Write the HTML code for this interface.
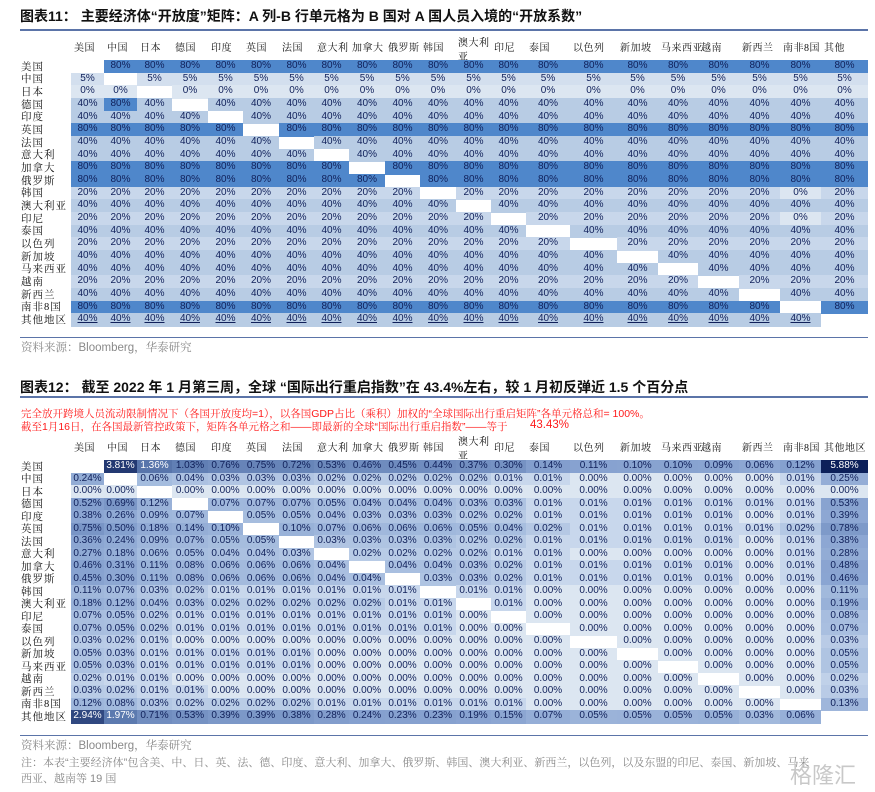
<!DOCTYPE html>
<html><head><meta charset="utf-8">
<style>
body{margin:0;width:875px;height:792px;background:#fff;position:relative;overflow:hidden;font-family:"Liberation Sans","Noto Sans CJK SC",sans-serif;}
.abs{position:absolute;}
.title{position:absolute;left:20px;font-size:14px;font-weight:bold;color:#111;font-family:"Liberation Sans","Noto Sans CJK SC",sans-serif;white-space:nowrap;line-height:18px;}
.rule{position:absolute;left:20px;width:848px;height:1.5px;background:#5b74a8;}
.cell{position:absolute;font-size:10px;color:#10205a;text-align:center;font-family:"Liberation Sans",sans-serif;}
.rl{position:absolute;left:21px;font-size:10.5px;color:#111;font-family:"Liberation Serif","Noto Serif CJK SC",serif;white-space:nowrap;letter-spacing:1px;}
.hl{position:absolute;font-size:10px;color:#111;font-family:"Liberation Serif","Noto Serif CJK SC",serif;white-space:nowrap;line-height:12px;letter-spacing:0.5px;}
.src{position:absolute;left:21px;font-size:11.5px;color:#8a8a8a;font-family:"Liberation Sans","Noto Serif CJK SC",sans-serif;white-space:nowrap;line-height:14px;}
.red{position:absolute;left:21px;font-size:10.5px;color:#ff1a1a;font-family:"Liberation Sans","Noto Serif CJK SC",sans-serif;white-space:nowrap;line-height:13px;}
</style></head>
<body>
<div class="title" style="top:7px">图表11：&nbsp;主要经济体“开放度”矩阵：A 列-B 行单元格为 B 国对 A 国人员入境的“开放系数”</div>
<div class="rule" style="top:29px"></div>
<div id="t1"></div>
<div class="rule" style="top:337px;height:1px"></div>
<div class="src" style="top:341px">资料来源：Bloomberg，华泰研究</div>

<div class="title" style="top:378px">图表12：&nbsp;截至 2022 年 1 月第三周，全球 “国际出行重启指数”在 43.4%左右，较 1 月初反弹近 1.5 个百分点</div>
<div class="rule" style="top:396px"></div>
<div class="red" style="top:408px">完全放开跨境人员流动限制情况下（各国开放度均=1），以各国GDP占比（乘积）加权的“全球国际出行重启矩阵”各单元格总和= 100%。</div>
<div class="red" style="top:421px">截至1月16日，在各国最新管控政策下，矩阵各单元格之和——即最新的全球“国际出行重启指数”——等于</div>
<div class="red" style="top:419px;left:530px;font-size:11.5px">43.43%</div>
<div id="t2"></div>
<div class="rule" style="top:735px;height:1px"></div>
<div class="src" style="top:739px">资料来源：Bloomberg，华泰研究</div>
<div class="src" style="top:756px;font-size:11px">注：本表“主要经济体”包含美、中、日、英、法、德、印度、意大利、加拿大、俄罗斯、韩国、澳大利亚、新西兰，以色列，以及东盟的印尼、泰国、新加坡、马来</div>
<div class="src" style="top:772px;font-size:11px">西亚、越南等 19 国</div>
<div class="abs" style="left:790px;top:758px;font-size:22px;color:#c8c8c8;font-family:'Noto Sans CJK SC',sans-serif">格隆汇</div>

<script>
const countries=["美国","中国","日本","德国","印度","英国","法国","意大利","加拿大","俄罗斯","韩国","澳大利亚","印尼","泰国","以色列","新加坡","马来西亚","越南","新西兰","南非8国","其他地区"];
const colHeaders1=["美国","中国","日本","德国","印度","英国","法国","意大利","加拿大","俄罗斯","韩国","澳大利亚","印尼","泰国","以色列","新加坡","马来西亚","越南","新西兰","南非8国","其他"];
const colHeaders2=["美国","中国","日本","德国","印度","英国","法国","意大利","加拿大","俄罗斯","韩国","澳大利亚","印尼","泰国","以色列","新加坡","马来西亚","越南","新西兰","南非8国","其他地区"];
const rowOpenness=[80,5,0,40,40,80,40,40,80,80,20,40,20,40,20,40,40,20,40,80,40];
const opennessExceptions=[[3,1,80],[10,19,0],[12,19,0]];
const m_US=[null,3.81,1.36,1.03,0.76,0.75,0.72,0.53,0.46,0.45,0.44,0.37,0.30,0.14,0.11,0.10,0.10,0.09,0.06,0.12,5.88];
const m_CN=[0.24,null,0.06,0.04,0.03,0.03,0.03,0.02,0.02,0.02,0.02,0.02,0.01,0.01,0,0,0,0,0,0.01,0.25];
const m_JP=[0,0,null,0,0,0,0,0,0,0,0,0,0,0,0,0,0,0,0,0,0];
const m_DE=[0.52,0.69,0.12,null,0.07,0.07,0.07,0.05,0.04,0.04,0.04,0.03,0.03,0.01,0.01,0.01,0.01,0.01,0.01,0.01,0.53];
const m_IN=[0.38,0.26,0.09,0.07,null,0.05,0.05,0.04,0.03,0.03,0.03,0.02,0.02,0.01,0.01,0.01,0.01,0.01,0,0.01,0.39];
const m_UK=[0.75,0.50,0.18,0.14,0.10,null,0.10,0.07,0.06,0.06,0.06,0.05,0.04,0.02,0.01,0.01,0.01,0.01,0.01,0.02,0.78];
const m_FR=[0.36,0.24,0.09,0.07,0.05,0.05,null,0.03,0.03,0.03,0.03,0.02,0.02,0.01,0.01,0.01,0.01,0.01,0,0.01,0.38];
const m_IT=[0.27,0.18,0.06,0.05,0.04,0.04,0.03,null,0.02,0.02,0.02,0.02,0.01,0.01,0,0,0,0,0,0.01,0.28];
const m_CA=[0.46,0.31,0.11,0.08,0.06,0.06,0.06,0.04,null,0.04,0.04,0.03,0.02,0.01,0.01,0.01,0.01,0.01,0,0.01,0.48];
const m_RU=[0.45,0.30,0.11,0.08,0.06,0.06,0.06,0.04,0.04,null,0.03,0.03,0.02,0.01,0.01,0.01,0.01,0.01,0,0.01,0.46];
const m_KR=[0.11,0.07,0.03,0.02,0.01,0.01,0.01,0.01,0.01,0.01,null,0.01,0.01,0,0,0,0,0,0,0,0.11];
const m_AU=[0.18,0.12,0.04,0.03,0.02,0.02,0.02,0.02,0.02,0.01,0.01,null,0.01,0,0,0,0,0,0,0,0.19];
const m_ID=[0.07,0.05,0.02,0.01,0.01,0.01,0.01,0.01,0.01,0.01,0.01,0,null,0,0,0,0,0,0,0,0.08];
const m_TH=[0.07,0.05,0.02,0.01,0.01,0.01,0.01,0.01,0.01,0.01,0.01,0,0,null,0,0,0,0,0,0,0.07];
const m_IL=[0.03,0.02,0.01,0,0,0,0,0,0,0,0,0,0,0,null,0,0,0,0,0,0.03];
const m_SG=[0.05,0.03,0.01,0.01,0.01,0.01,0.01,0,0,0,0,0,0,0,0,null,0,0,0,0,0.05];
const m_MY=[0.05,0.03,0.01,0.01,0.01,0.01,0.01,0,0,0,0,0,0,0,0,0,null,0,0,0,0.05];
const m_VN=[0.02,0.01,0.01,0,0,0,0,0,0,0,0,0,0,0,0,0,0,null,0,0,0.02];
const m_NZ=[0.03,0.02,0.01,0.01,0,0,0,0,0,0,0,0,0,0,0,0,0,0,null,0,0.03];
const m_ZA=[0.12,0.08,0.03,0.02,0.02,0.02,0.02,0.01,0.01,0.01,0.01,0.01,0.01,0,0,0,0,0,0,null,0.13];
const m_OT=[2.94,1.97,0.71,0.53,0.39,0.39,0.38,0.28,0.24,0.23,0.23,0.19,0.15,0.07,0.05,0.05,0.05,0.05,0.03,0.06,null];
const matrix2=[m_US,m_CN,m_JP,m_DE,m_IN,m_UK,m_FR,m_IT,m_CA,m_RU,m_KR,m_AU,m_ID,m_TH,m_IL,m_SG,m_MY,m_VN,m_NZ,m_ZA,m_OT];

const colEdges=[71,104,137,172,208,243,279,314,349,385,420,456,491,526,570,617,658,698,739,780,821,868];
function colX(j){return colEdges[j];}
function colW(j){return colEdges[j+1]-colEdges[j];}

function mk(parent,cls,style,text){const d=document.createElement('div');d.className=cls;d.style.cssText=style;if(text!==undefined)d.textContent=text;parent.appendChild(d);return d;}

// Table 1
(function(){
 const root=document.getElementById('t1');
 const top=60,rh=266/21;
 colHeaders1.forEach((h,j)=>{
  let el;
  if(h==="澳大利亚"){el=mk(root,'hl',`left:${colX(j)+2}px;top:37px;line-height:14px`,'');el.innerHTML='澳大利<br>亚';}
  else el=mk(root,'hl',`left:${colX(j)+3}px;top:43px`,h);
  
  
 });
 const colorOf={80:'#4f87cb',40:'#b8cce4',20:'#c8d7eb',5:'#d3dfee',0:'#dce6f1'};
 countries.forEach((c,i)=>{
  const y=top+i*rh;
  const lab=mk(root,'rl',`top:${y+1.5}px;line-height:${rh}px;height:${rh}px`,c);
  
  
  for(let j=0;j<21;j++){
   if(i===j)continue;
   let v=rowOpenness[i];
   opennessExceptions.forEach(e=>{if(e[0]===i&&e[1]===j)v=e[2];});
   const cell=mk(root,'cell',`left:${colX(j)}px;top:${y}px;width:${colW(j)}px;height:${rh+0.6}px;line-height:${rh}px;background:${colorOf[v]}`,v+'%');
   if(i===20){cell.style.textDecoration='underline';}
   
   
  }
 });
})();

// Table 2
function lerp(a,b,t){return a.map((x,k)=>Math.round(x+(b[k]-x)*t));}
const stops=[[0,[220,230,241]],[0.35,[200,215,236]],[0.55,[165,188,222]],[0.75,[135,162,208]],[0.9,[95,125,178]],[1,[12,32,90]]];
function heat(t){for(let k=1;k<stops.length;k++){if(t<=stops[k][0]){const a=stops[k-1],b=stops[k];const u=(t-a[0])/(b[0]-a[0]);const c=lerp(a[1],b[1],u);return `rgb(${c.join(',')})`;}}return 'rgb(12,32,90)';}
(function(){
 const root=document.getElementById('t2');
 const top=460,rh=263/21;
 colHeaders2.forEach((h,j)=>{
  let el;
  if(h==="澳大利亚"){el=mk(root,'hl',`left:${colX(j)+2}px;top:436px;line-height:14px`,'');el.innerHTML='澳大利<br>亚';}
  else el=mk(root,'hl',`left:${colX(j)+3}px;top:443px`,h);
  
  
 });
 const colMax=[],colMin=[];
 for(let j=0;j<21;j++){let mx=0,mn=1e9;matrix2.forEach(r=>{const v=r[j];if(v!=null&&v>0){mx=Math.max(mx,v);mn=Math.min(mn,v);}});colMax.push(mx);colMin.push(mn);}
 countries.forEach((c,i)=>{
  const y=top+i*rh;
  const lab=mk(root,'rl',`top:${y+1.5}px;line-height:${rh}px;height:${rh}px`,c);
  
  
  for(let j=0;j<21;j++){
   const v=matrix2[i][j];
   if(v==null)continue;
   let t=0;
   if(v>0){
    const tc=colMax[j]>colMin[j]?Math.log(v/colMin[j])/Math.log(colMax[j]/colMin[j]):1;
    const tg=Math.log(v/0.01)/Math.log(5.88/0.01);
    t=0.35+0.25*tc+0.4*tg;
    if(t>1)t=1;
   }
   const bg=heat(t);
   const cell=mk(root,'cell',`left:${colX(j)}px;top:${y}px;width:${colW(j)}px;height:${rh+0.6}px;line-height:${rh}px;background:${bg};color:${t>0.9?'#fff':'#10205a'}`,v.toFixed(2)+'%');
   
   
  }
 });
})();
</script>
</body></html>
